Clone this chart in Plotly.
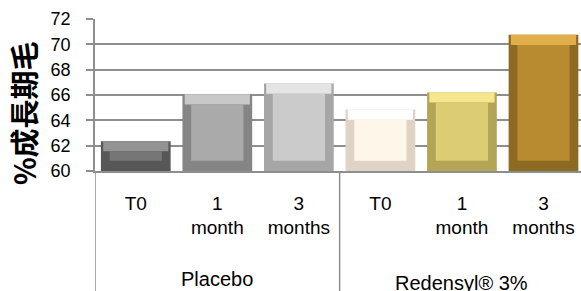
import plotly.graph_objects as go

# ---- data ----
groups = ["Placebo", "Redensyl® 3%"]
tick_labels = ["T0", "1<br>month", "3<br>months", "T0", "1<br>month", "3<br>months"]
values = [62.35, 66.05, 66.9, 64.85, 66.2, 70.75]
y_title = "%成長期毛"

face_colors = ["#767676", "#aaaaaa", "#cbcbcb", "#fff6ea", "#dccd74", "#b98b30"]
light_colors = ["#939393", "#c8c8c8", "#e4e4e4", "#ffffff", "#f6e68d", "#e0ae4a"]
edge_colors = ["#575757", "#858585", "#a6a6a6", "#dfd3c6", "#b3a456", "#8d6a22"]

BASE = 60
BEVEL = 0.8
x = list(range(len(values)))

fig = go.Figure()
# outer bevel body
fig.add_trace(go.Bar(x=x, y=values, width=0.855, marker=dict(color=edge_colors, line=dict(width=0)),
                     hoverinfo="skip"))
# top light bevel strip
fig.add_trace(go.Bar(x=x, y=[BEVEL] * len(values), base=[v - BEVEL for v in values], width=0.8,
                     marker=dict(color=light_colors, line=dict(width=0)), hoverinfo="skip"))
# inner face
inner_h = [max(v - BASE - 2 * BEVEL, 0.4) for v in values]
inner_b = [BASE + (v - BASE - h) / 2 for v, h in zip(values, inner_h)]
fig.add_trace(go.Bar(x=x, y=inner_h, base=inner_b, width=0.64,
                     marker=dict(color=face_colors, line=dict(width=0)), hoverinfo="text",
                     hovertext=[str(v) for v in values]))

grid = "#8e8e8e"
fig.update_layout(
    width=581, height=291,
    margin=dict(l=95, r=0, t=19, b=120, autoexpand=False),
    paper_bgcolor="white", plot_bgcolor="white",
    barmode="overlay", showlegend=False,
    font=dict(family="Liberation Sans", color="black"),
    xaxis=dict(range=[-0.5, 5.46], tickmode="array", tickvals=x, ticktext=tick_labels,
               showgrid=False, zeroline=False, showline=True, linecolor=grid, linewidth=1.5,
               ticks="", tickfont=dict(size=19, family="Liberation Sans"), ticklabelstandoff=14,
               automargin=False, fixedrange=True),
    yaxis=dict(range=[60, 72], dtick=2, showgrid=True, gridcolor=grid, gridwidth=1.5,
               zeroline=False, showline=True, linecolor=grid, linewidth=1.5,
               ticks="outside", ticklen=7, tickcolor=grid, tickwidth=1.5,
               tickfont=dict(size=18, family="Liberation Sans"), ticklabelstandoff=12,
               automargin=False, fixedrange=True),
)

# y-axis title
fig.add_annotation(text="<b>" + y_title + "</b>", textangle=-90, xref="paper", yref="paper",
                   x=-0.148, y=0.38, xanchor="center", yanchor="middle", showarrow=False,
                   font=dict(size=29, family="Noto Sans CJK TC", color="black"))

# group labels
fig.add_annotation(text=groups[0], xref="x", yref="paper", x=1, y=-0.625, yanchor="top",
                   showarrow=False, font=dict(size=20, family="Liberation Sans"))
fig.add_annotation(text=groups[1], xref="x", yref="paper", x=4, y=-0.65, yanchor="top",
                   showarrow=False, font=dict(size=20, family="Liberation Sans"))

# group dividers
for xv in [-0.5, 2.5]:
    fig.add_shape(type="line", xref="x", yref="paper", x0=xv, x1=xv, y0=-0.85, y1=0,
                  line=dict(color=grid, width=1.5))

fig.write_html("out.html", config={"displayModeBar": False},
               post_script="document.body.style.margin='0';document.body.style.overflow='hidden';")
